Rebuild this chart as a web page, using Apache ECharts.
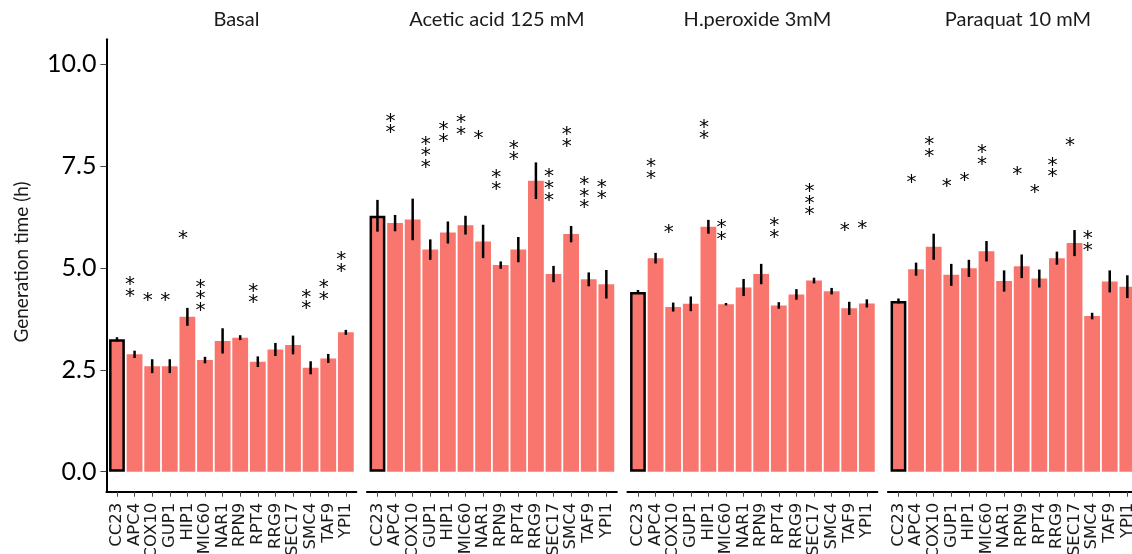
<!DOCTYPE html>
<html>
<head>
<meta charset="utf-8">
<script src="https://cdn.jsdelivr.net/npm/echarts@6.0.0/dist/echarts.min.js"></script>
<style>
  html, body { margin: 0; padding: 0; background: #fff; }
  #chart { width: 1132px; height: 554px; }
</style>
</head>
<body>
<div id="chart"></div>
<script>
// categories / panels
const cats = ['CC23', 'APC4', 'COX10', 'GUP1', 'HIP1', 'MIC60', 'NAR1', 'RPN9', 'RPT4', 'RRG9', 'SEC17', 'SMC4', 'TAF9', 'YPI1'];
const panelNames = ['Basal', 'Acetic acid 125 mM', 'H.peroxide 3mM', 'Paraquat 10 mM'];
const yTicks = [0, 2.5, 5, 7.5, 10];

// mean generation time (h), error half-width, number of stars, y of lowest star
const basalMean = [3.25, 2.88, 2.59, 2.59, 3.80, 2.74, 3.21, 3.29, 2.70, 3.00, 3.11, 2.55, 2.78, 3.42];
const basalErr = [0.05, 0.09, 0.17, 0.17, 0.22, 0.08, 0.31, 0.06, 0.13, 0.16, 0.23, 0.16, 0.11, 0.06];
const basalStars = [0, 2, 1, 1, 1, 3, 0, 0, 2, 0, 0, 2, 2, 2];
const basalStarY = [null, 4.42, 4.32, 4.32, 5.85, 4.07, null, null, 4.26, null, null, 4.11, 4.35, 5.03];

const aceticMean = [6.28, 6.10, 6.19, 5.45, 5.87, 6.05, 5.65, 5.07, 5.45, 7.14, 4.85, 5.83, 4.72, 4.60];
const aceticErr = [0.39, 0.20, 0.51, 0.25, 0.27, 0.23, 0.41, 0.09, 0.31, 0.45, 0.20, 0.20, 0.17, 0.35];
const aceticStars = [0, 2, 0, 3, 2, 2, 1, 2, 2, 0, 3, 2, 3, 2];
const aceticStarY = [null, 8.43, null, 7.58, 8.22, 8.39, 8.29, 7.05, 7.77, null, 6.78, 8.10, 6.59, 6.81];

const peroxideMean = [4.41, 5.24, 4.04, 4.12, 6.01, 4.11, 4.52, 4.85, 4.08, 4.35, 4.69, 4.43, 4.01, 4.13];
const peroxideErr = [0.05, 0.13, 0.11, 0.18, 0.17, 0.03, 0.21, 0.25, 0.08, 0.13, 0.07, 0.08, 0.16, 0.10];
const peroxideStars = [0, 2, 1, 0, 2, 2, 0, 0, 2, 0, 3, 0, 1, 1];
const peroxideStarY = [null, 7.31, 5.99, null, 8.28, 5.81, null, null, 5.87, null, 6.42, null, 6.03, 6.08];

const paraquatMean = [4.19, 4.97, 5.52, 4.83, 4.99, 5.41, 4.68, 5.04, 4.74, 5.24, 5.61, 3.82, 4.67, 4.54];
const paraquatErr = [0.06, 0.16, 0.32, 0.27, 0.21, 0.25, 0.26, 0.29, 0.22, 0.16, 0.32, 0.08, 0.27, 0.28];
const paraquatStars = [0, 1, 2, 1, 1, 2, 0, 1, 1, 2, 1, 2, 0, 0];
const paraquatStarY = [null, 7.22, 7.85, 7.12, 7.26, 7.65, null, 7.41, 6.96, 7.35, 8.12, 5.54, null, null];

const panels = [
  {mean: basalMean, err: basalErr, stars: basalStars, starY: basalStarY},
  {mean: aceticMean, err: aceticErr, stars: aceticStars, starY: aceticStarY},
  {mean: peroxideMean, err: peroxideErr, stars: peroxideStars, starY: peroxideStarY},
  {mean: paraquatMean, err: paraquatErr, stars: paraquatStars, starY: paraquatStarY}
];

// layout
const panelLeft0 = 106.4;
const panelStep = 260.5;
const panelWidth = 250;
const gridTop = 39.3;
const gridBottom = 62.3;
const barColor = '#F8766D';
const starGap = 11.7;
const starDx = -4.5;
const starDy = 5;

const chart = echarts.init(document.getElementById('chart'));

const grids = [], xAxes = [], yAxes = [], titles = [], series = [];
const catIdx = cats.map((c, i) => i);

panels.forEach((p, i) => {
  const left = panelLeft0 + i * panelStep;
  grids.push({
    left: left, width: panelWidth, top: gridTop, bottom: gridBottom,
    containLabel: false, outerBoundsMode: 'none'
  });
  titles.push({
    text: panelNames[i],
    left: left + panelWidth / 2,
    top: 5,
    textAlign: 'center',
    textStyle: {fontFamily: 'Lato', fontSize: 20, fontWeight: 'normal', color: '#1a1a1a'}
  });
  xAxes.push({
    gridIndex: i,
    type: 'value',
    min: -0.6,
    max: 13.6,
    splitLine: {show: false},
    axisLine: {show: true, onZero: false, lineStyle: {color: '#000', width: 2}},
    axisTick: {show: true, length: 5, customValues: catIdx, lineStyle: {color: '#444', width: 1}},
    axisLabel: {
      show: true,
      customValues: catIdx,
      formatter: v => cats[Math.round(v)],
      rotate: 90,
      margin: 11,
      fontFamily: 'DejaVu Sans',
      fontSize: 16.5,
      color: '#1a1a1a'
    }
  });
  yAxes.push({
    gridIndex: i,
    type: 'value',
    min: -0.49,
    max: 10.61,
    show: i === 0,
    splitLine: {show: false},
    axisLine: {show: true, onZero: false, lineStyle: {color: '#000', width: 2}},
    axisTick: {show: true, length: 6, customValues: yTicks, lineStyle: {color: '#444', width: 1}},
    axisLabel: {
      show: true,
      customValues: yTicks,
      formatter: v => Number(v).toFixed(1),
      margin: 10,
      fontFamily: 'Lato',
      fontSize: 25,
      color: '#000'
    }
  });

  series.push({
    type: 'bar',
    xAxisIndex: i,
    yAxisIndex: i,
    barWidth: 15.8,
    itemStyle: {color: barColor},
    data: p.mean.map((v, j) => ({
      value: [j, v],
      itemStyle: j === 0 ? {color: barColor, borderColor: '#000', borderWidth: 2.5} : {color: barColor}
    })),
    z: 2
  });

  // error bars
  series.push({
    type: 'custom',
    xAxisIndex: i,
    yAxisIndex: i,
    data: p.mean.map((v, j) => [j, v - p.err[j], v + p.err[j]]),
    renderItem: (params, api) => {
      const lo = api.coord([api.value(0), api.value(1)]);
      const hi = api.coord([api.value(0), api.value(2)]);
      return {
        type: 'line',
        shape: {x1: lo[0], y1: lo[1], x2: hi[0], y2: hi[1]},
        style: {stroke: '#000', lineWidth: 2.5}
      };
    },
    z: 3
  });

  // significance stars
  const starData = [];
  p.stars.forEach((n, j) => {
    if (n > 0) starData.push([j, p.starY[j], n]);
  });
  series.push({
    type: 'custom',
    xAxisIndex: i,
    yAxisIndex: i,
    data: starData,
    renderItem: (params, api) => {
      const pt = api.coord([api.value(0), api.value(1)]);
      const n = api.value(2);
      const children = [];
      for (let k = 0; k < n; k++) {
        children.push({
          type: 'text',
          x: pt[0] + starDx,
          y: pt[1] - k * starGap + starDy,
          style: {
            text: '*',
            fill: '#000',
            font: '20px "DejaVu Sans"',
            align: 'center',
            verticalAlign: 'middle'
          }
        });
      }
      return {type: 'group', children: children};
    },
    z: 4
  });
});

const option = {
  animation: false,
  backgroundColor: '#fff',
  title: titles,
  grid: grids,
  xAxis: xAxes,
  yAxis: yAxes,
  series: series,
  graphic: [{
    type: 'text',
    x: 22,
    y: 262,
    rotation: Math.PI / 2,
    style: {
      text: 'Generation time (h)',
      font: '19px Lato',
      fill: '#1a1a1a',
      align: 'center',
      verticalAlign: 'middle'
    }
  }]
};

chart.setOption(option);
window.addEventListener('resize', () => chart.resize());
</script>
</body>
</html>
